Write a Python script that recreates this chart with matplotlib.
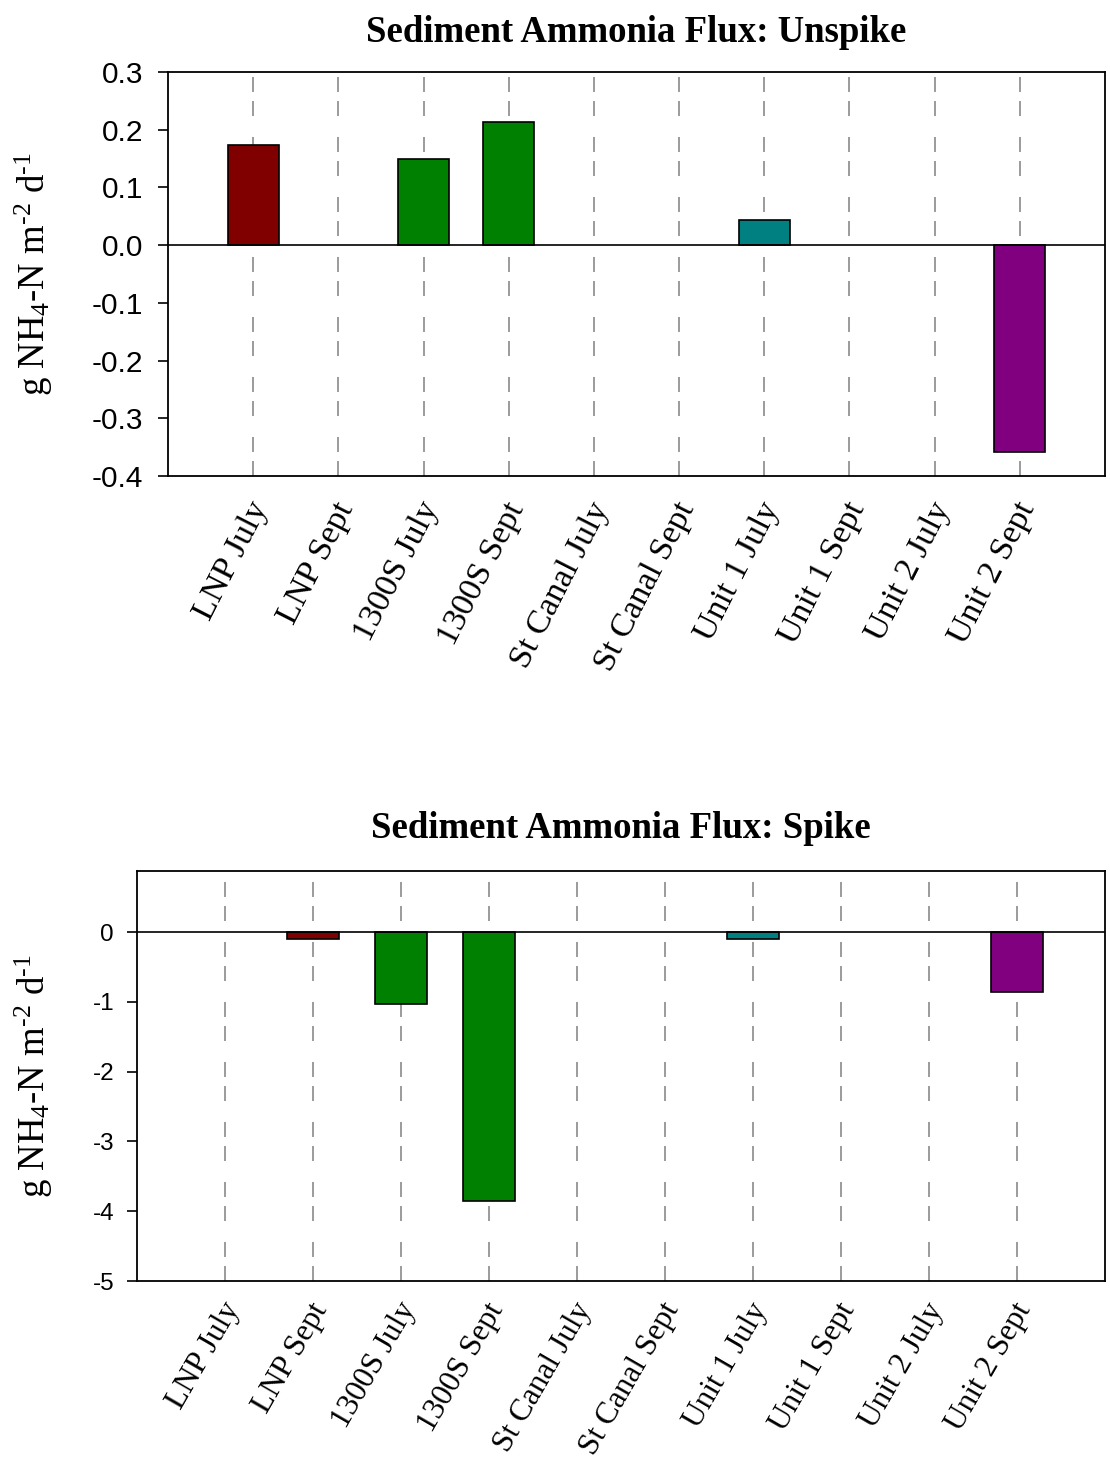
import matplotlib
matplotlib.use("Agg")
import matplotlib.pyplot as plt
import matplotlib.transforms as mtransforms

plt.rcParams["lines.scale_dashes"] = False
plt.rcParams["mathtext.fontset"] = "custom"
plt.rcParams["mathtext.rm"] = "Liberation Serif"
plt.rcParams["mathtext.it"] = "Liberation Serif:italic"
plt.rcParams["mathtext.bf"] = "Liberation Serif:bold"

# Sampling sites / months
categories = ["LNP July", "LNP Sept", "1300S July", "1300S Sept", "St Canal July",
              "St Canal Sept", "Unit 1 July", "Unit 1 Sept", "Unit 2 July", "Unit 2 Sept"]

# Sediment ammonia flux (g NH4-N m-2 d-1); None = no bar
unspike = [0.174, None, 0.149, 0.213, None, None, 0.044, None, None, -0.358]
spike = [None, -0.105, -1.034, -3.86, None, None, -0.10, None, None, -0.857]

bar_colors = ["#800000", "#800000", "#008000", "#008000", "#008000",
              "#008000", "#008080", "#008080", "#800080", "#800080"]

unspike_ticks = [-0.4, -0.3, -0.2, -0.1, 0.0, 0.1, 0.2, 0.3]
spike_ticks = [-5, -4, -3, -2, -1, 0]

W, H = 1110, 1469
fig = plt.figure(figsize=(W / 100, H / 100), dpi=100)

ylabel = r"g NH$_4$-N m$^{\text{-}2}$ d$^{\text{-}1}$"
grid_dash = (0, (10.8, 6.5, 10.8, 15.1))


def draw_panel(rect, values, title, yticks, ylim, tick_fmt, tick_fs, tick_pad,
               xl_fs, rot, off_px, ylab_x, title_pad):
    ax = fig.add_axes(rect)
    x = list(range(len(categories)))
    for xi in x:
        ax.axvline(xi, color="#808080", lw=1.1, linestyle=grid_dash, zorder=1)
    for xi, v, c in zip(x, values, bar_colors):
        if v is not None:
            ax.bar(xi, v, width=0.6, color=c, edgecolor="black", linewidth=1.2, zorder=2)
    ax.axhline(0, color="black", lw=1.2, zorder=3)
    ax.set_xlim(-1, len(categories))
    ax.set_ylim(*ylim)
    ax.set_yticks(yticks)
    ax.set_yticklabels([tick_fmt(t) for t in yticks], fontsize=tick_fs,
                       fontfamily="Liberation Sans")
    ax.tick_params(axis="y", direction="out", length=7, width=1.2, pad=tick_pad)
    ax.set_xticks(x)
    ax.set_xticklabels(categories, fontsize=xl_fs, fontfamily="Liberation Serif",
                       rotation=rot, ha="right", va="center", rotation_mode="anchor")
    ax.tick_params(axis="x", length=0, pad=0)
    offset = mtransforms.ScaledTranslation(off_px[0] / 100, -off_px[1] / 100,
                                           fig.dpi_scale_trans)
    for lab in ax.get_xticklabels():
        lab.set_transform(lab.get_transform() + offset)
    for s in ax.spines.values():
        s.set_linewidth(1.3)
        s.set_color("black")
    ax.set_ylabel(ylabel, fontsize=26.5, fontfamily="Liberation Serif")
    ax.yaxis.set_label_coords(ylab_x, 0.5)
    ax.set_title(title, fontsize=26.5, fontweight="bold", fontfamily="Liberation Serif",
                 pad=title_pad)
    return ax


draw_panel([168 / W, 1 - 476 / H, 937 / W, 404 / H], unspike,
           "Sediment Ammonia Flux: Unspike", unspike_ticks, (-0.4, 0.3),
           lambda t: f"{t:.1f}", 21.5, 11, 24.5, 63, (8, 28), -0.1206, 21.5)

draw_panel([137 / W, 1 - 1281 / H, 968 / W, 410 / H], spike,
           "Sediment Ammonia Flux: Spike", spike_ticks, (-5, 0.876),
           lambda t: f"{t:d}", 17.5, 9.5, 22.5, 60, (8, 24), -0.0847, 24)

fig.savefig("out.png", dpi=100, facecolor="white")
